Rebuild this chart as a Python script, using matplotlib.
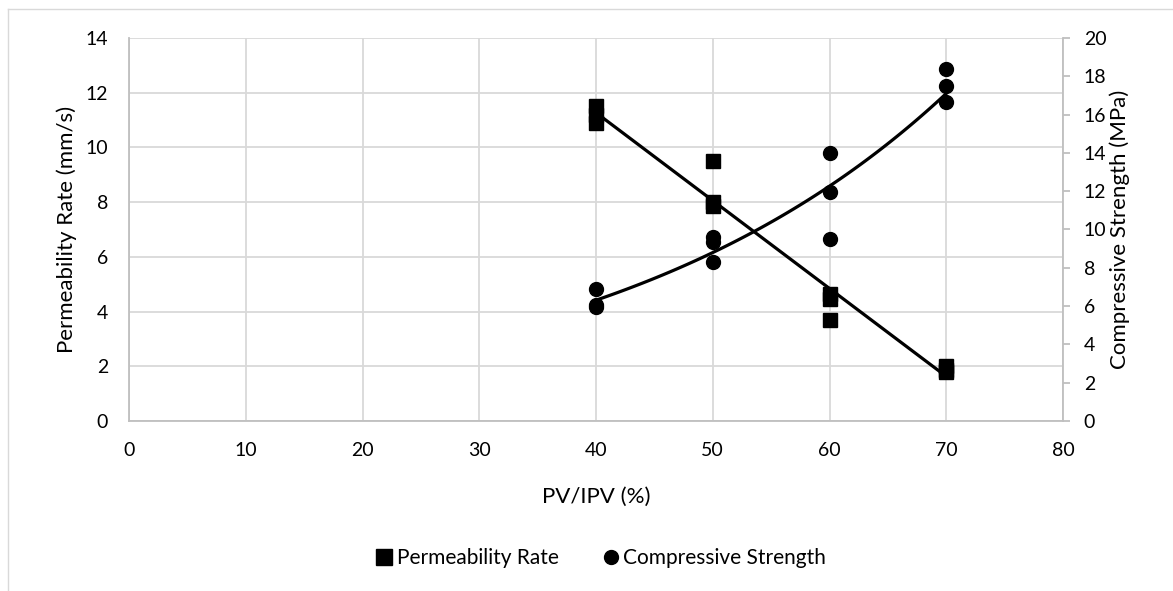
import numpy as np
import matplotlib
matplotlib.use("Agg")
import matplotlib.pyplot as plt
from matplotlib.lines import Line2D

plt.rcParams['font.family'] = ['Lato', 'DejaVu Sans']

# Data
pv_perm = [40, 40, 40, 50, 50, 50, 60, 60, 60, 70, 70, 70]
perm_rate = [11.5, 11.2, 10.9, 9.5, 8.0, 7.85, 4.65, 4.45, 3.7, 2.0, 1.85, 1.8]
pv_cs = [40, 40, 40, 50, 50, 50, 60, 60, 60, 70, 70, 70]
comp_strength = [6.9, 6.05, 5.95, 9.6, 9.35, 8.3, 14.0, 11.95, 9.5, 18.4, 17.5, 16.65]

x_ticks = [0, 10, 20, 30, 40, 50, 60, 70, 80]
y1_ticks = [0, 2, 4, 6, 8, 10, 12, 14]
y2_ticks = [0, 2, 4, 6, 8, 10, 12, 14, 16, 18, 20]

W, H = 1173, 591
fig = plt.figure(figsize=(W / 100, H / 100), dpi=100)
ax = fig.add_axes([129 / W, 1 - 421 / H, (1063 - 129) / W, (421 - 38) / H])
ax2 = ax.twinx()

grid_c = '#d9d9d9'
ax.set_xlim(0, 80)
ax.set_ylim(0, 14)
ax2.set_ylim(0, 20)
ax.set_xticks(x_ticks)
ax.set_yticks(y1_ticks)
ax2.set_yticks(y2_ticks)
ax.grid(True, color=grid_c, linewidth=1.3)
ax.set_axisbelow(True)
for s in ['top', 'right']:
    ax.spines[s].set_visible(False)
for s in ['top', 'left', 'bottom']:
    ax2.spines[s].set_visible(False)
for sp in (ax.spines['left'], ax.spines['bottom'], ax2.spines['right']):
    sp.set_color('#bfbfbf')
    sp.set_linewidth(1.3)
ax.tick_params(axis='y', length=0, labelsize=14, colors='#000000', pad=15)
ax.tick_params(axis='x', length=0, labelsize=14, colors='#000000', pad=15)
ax2.tick_params(axis='y', length=5, width=1.3, color='#bfbfbf', labelsize=14,
                labelcolor='#000000', pad=10)

# Permeability: squares + linear trend
ax.plot(pv_perm, perm_rate, linestyle='none', marker='s', markersize=10,
        color='black', zorder=3)
c1 = np.polyfit(pv_perm, perm_rate, 1)
xs = np.linspace(min(pv_perm), max(pv_perm), 100)
ax.plot(xs, np.polyval(c1, xs), color='black', linewidth=2.3, zorder=2)

# Compressive strength: circles + exponential trend
ax2.plot(pv_cs, comp_strength, linestyle='none', marker='o', markersize=10,
         color='black', zorder=3)
c2 = np.polyfit(pv_cs, np.log(comp_strength), 1)
xs2 = np.linspace(min(pv_cs), max(pv_cs), 100)
ax2.plot(xs2, np.exp(np.polyval(c2, xs2)), color='black', linewidth=2.3, zorder=2)

ax.set_xlabel('PV/IPV (%)', fontsize=16, labelpad=20)
ax.set_ylabel('Permeability Rate (mm/s)', fontsize=16, labelpad=6)
ax2.set_ylabel('Compressive Strength (MPa)', fontsize=16, labelpad=2)

handles = [Line2D([], [], linestyle='none', marker='s', markersize=11, color='black'),
           Line2D([], [], linestyle='none', marker='o', markersize=10, color='black')]
fig.legend(handles, ['Permeability Rate', 'Compressive Strength'],
           loc='center', bbox_to_anchor=(600 / W, 1 - 558 / H), ncol=2,
           frameon=False, fontsize=15, handletextpad=0.1, columnspacing=2.0,
           handlelength=1.0)

# chart area border
fig.add_artist(Line2D([8 / W, 8 / W], [0, 1 - 9 / H], color='#d9d9d9',
                      linewidth=1, transform=fig.transFigure))
fig.add_artist(Line2D([8 / W, 1], [1 - 9 / H, 1 - 9 / H], color='#d9d9d9',
                      linewidth=1, transform=fig.transFigure))

fig.savefig('out.png', dpi=100)
